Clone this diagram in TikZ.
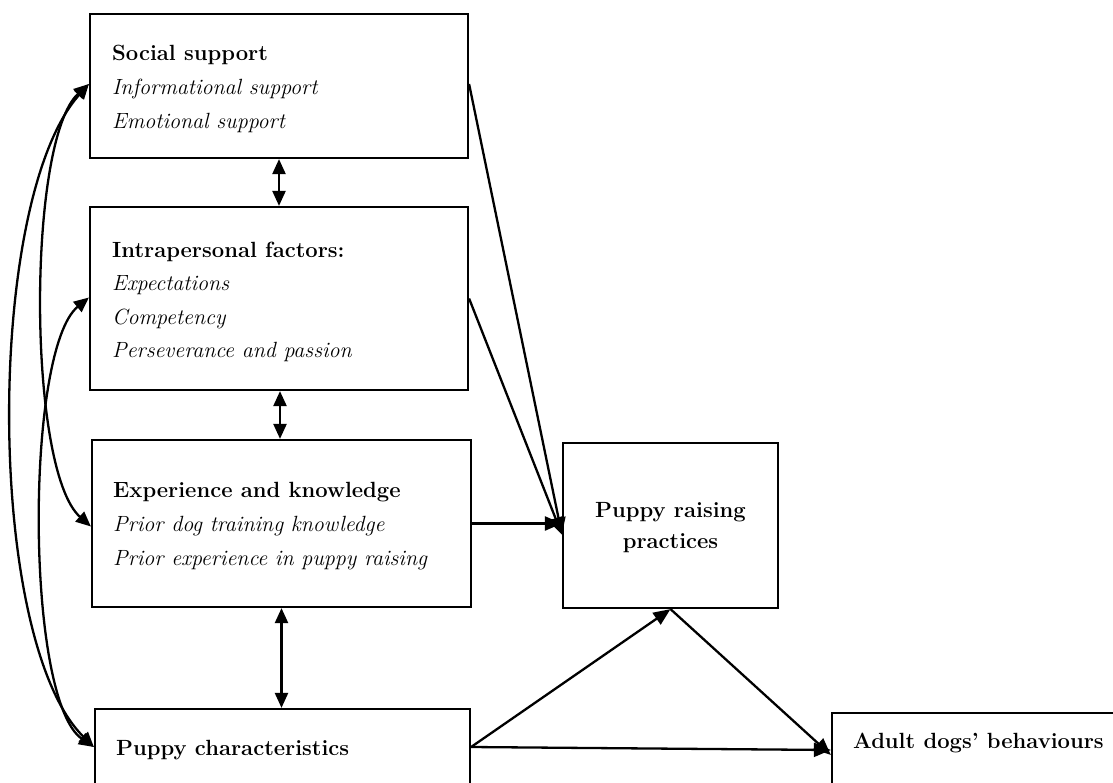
\documentclass[tikz,border=0pt]{standalone}
\usetikzlibrary{arrows.meta}
\begin{document}
\begin{tikzpicture}[x=1pt,y=-1pt,
  box/.style={draw,line width=2.2pt,minimum width=#1,inner sep=0pt},
  txt/.style={anchor=west,align=left,inner sep=0pt,font=\fontsize{22}{34}\selectfont},
  ctxt/.style={align=center,inner sep=0pt,font=\fontsize{22}{31}\selectfont\bfseries},
  con/.style={line width=2.3pt,-{Triangle[length=17pt,width=14pt]}},
  dbl/.style={line width=2.3pt,{Triangle[length=15pt,width=13pt]}-{Triangle[length=15pt,width=13pt]}}
]
\useasboundingbox (0,0) rectangle (1113,782);
\clip (0,0) rectangle (1113,782);
% boxes
\node[box=378pt,minimum height=144pt] (soc) at (279,86) {};
\node[box=378pt,minimum height=183pt] (intra) at (279,298.5) {};
\node[box=379pt,minimum height=167pt] (exp) at (281.5,523.5) {};
\node[box=215pt,minimum height=165pt] (raise) at (670.5,525.5) {};
\node[box=375pt,minimum height=76pt] (char) at (282.5,747) {};
\node[box=300pt,minimum height=74pt] (adult) at (982,750) {};
% texts
\node[txt] (soct) at (112,88.5) {\textbf{Social support}\\\textit{Informational support}\\\textit{Emotional support}};
\node[txt,font=\fontsize{22}{33.3}\selectfont] (intrat) at (112,302) {\textbf{Intrapersonal factors:}\\\textit{Expectations}\\\textit{Competency}\\\textit{Perseverance and passion}};
\node[txt] (expt) at (113,526) {\textbf{Experience and knowledge}\\\textit{Prior dog training knowledge}\\\textit{Prior experience in puppy raising}};
\node[ctxt] (raiset) at (670.5,527.5) {Puppy raising\\practices};
\node[txt] (chart) at (116,750) {\textbf{Puppy characteristics}};
\node[txt] (adultt) at (853,743) {\textbf{Adult dogs’ behaviours}};
% connectors
\coordinate (rin) at ([yshift=-9pt]raise.west);
\coordinate (ain) at ([yshift=-5pt]adult.west);
\draw[dbl] (soc.south) -- (intra.north);
\draw[dbl] ([xshift=1pt]intra.south) -- ([xshift=1pt]intra.south |- exp.north);
\draw[dbl] (exp.south) -- (exp.south |- char.north);
\draw[con] ([yshift=2pt]soc.east) -- (rin);
\draw[con] (intra.east) -- (rin);
\draw[con] (exp.east) -- (raise.west |- exp.east);
\draw[con] (char.east) -- (raise.south);
\draw[con] (raise.south) -- (ain);
\draw[con] (char.east) -- (adult.west);
\draw[dbl] ([yshift=2pt]soc.west) .. controls (-15,200) and (-15,640) .. (char.west);
\draw[dbl] ([yshift=2pt]soc.west) .. controls (27,140) and (27,470) .. ([yshift=-3pt]exp.west);
\draw[dbl] ([yshift=1pt]intra.west) .. controls (25,350) and (25,700) .. (char.west);
\end{tikzpicture}
\end{document}
